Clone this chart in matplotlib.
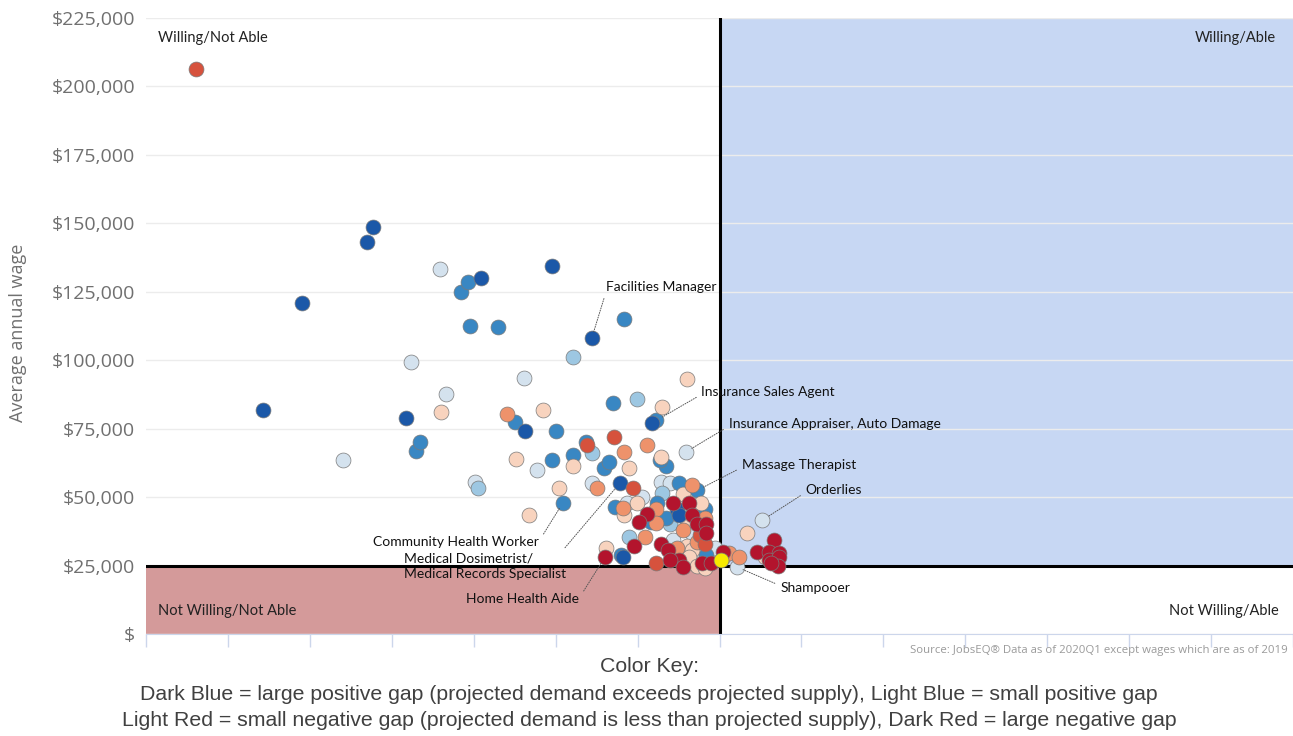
import numpy as np
import matplotlib
matplotlib.use("Agg")
import matplotlib.pyplot as plt
from matplotlib.patches import Rectangle
from matplotlib.ticker import FuncFormatter, MultipleLocator

# Gap colour scale, dark blue (large positive gap) -> dark red (large negative gap)
GAP_COLORS = {
    "db": "#1b58a8", "mb": "#3987c3", "lb": "#9dc7e2", "vlb": "#d4e2ee",
    "vlr": "#f8d3be", "lr": "#ee926b", "mr": "#d6523d", "dr": "#b3142d",
    "hl": "#f7ea00",
}

# Willingness/ability score (x) and average annual wage (y) per occupation,
# grouped by gap category.
db_x = [1.43, 1.91, 2.70, 2.77, 3.17, 4.09, 4.63, 4.95, 5.44, 6.18, 5.78, 6.48, 6.51, 5.82]
db_y = [82000, 121000, 143000, 148500, 79000, 130000, 74000, 134500, 108000, 77000,
        55000, 45500, 43500, 28000]

mb_x = [3.29, 3.34, 3.85, 3.93, 3.95, 4.30, 4.50, 5.00, 4.95, 5.09, 5.21, 5.37, 5.59, 5.65,
        5.70, 5.83, 6.23, 6.35, 6.27, 5.72, 6.51, 6.73, 6.82, 6.24, 6.17, 6.35, 6.84, 5.80]
mb_y = [67000, 70000, 125000, 128500, 112500, 112000, 77500, 74000, 63500, 48000, 65500,
        70000, 60500, 63000, 84500, 115000, 78000, 61500, 63500, 46500, 55000, 52500,
        45500, 48000, 41000, 42500, 29000, 29000]

lb_x = [5.21, 5.44, 5.99, 4.05, 5.90, 6.39, 6.30]
lb_y = [101000, 66000, 86000, 53500, 35500, 40000, 51500]

vlb_x = [2.41, 3.24, 3.59, 3.66, 4.02, 4.61, 4.77, 5.44, 6.59, 6.05, 5.87, 6.29, 6.39,
         6.67, 6.43, 6.94, 6.67, 7.52, 7.21]
vlb_y = [63500, 99500, 133500, 87500, 55500, 93500, 60000, 55000, 66500, 50000, 48000,
         55500, 55000, 37000, 34500, 31500, 29000, 41500, 24500]

vlr_x = [3.60, 4.52, 4.67, 4.84, 5.04, 5.21, 5.90, 6.29, 6.30, 6.60, 5.99, 5.84, 6.55,
         6.78, 6.60, 6.60, 6.66, 5.62, 6.63, 6.72, 6.82, 7.33, 7.55, 7.04]
vlr_y = [81000, 64000, 43500, 82000, 53500, 61500, 60500, 64500, 83000, 93000, 48000,
         43500, 51000, 48000, 41500, 32000, 30500, 31500, 28000, 25000, 24000, 37000,
         28000, 28000]

lr_x = [4.41, 5.84, 6.11, 5.50, 5.82, 6.66, 6.23, 6.23, 6.82, 6.55, 6.09, 6.48, 6.72,
        7.12, 7.24]
lr_y = [80500, 66500, 69000, 53500, 46000, 54500, 45500, 40500, 42500, 38000, 35500,
        31500, 33500, 29500, 28000]

mr_x = [0.61, 5.38, 5.71, 5.94, 6.76, 6.82, 6.23]
mr_y = [206500, 69000, 72000, 53500, 36000, 33000, 26000]

dr_x = [6.43, 6.63, 6.11, 6.02, 6.67, 6.72, 6.84, 6.84, 5.96, 5.60, 6.29, 6.37, 6.51,
        6.55, 6.79, 6.90, 7.04, 6.39, 7.67, 7.46, 7.61, 7.73, 7.61, 7.73, 7.71, 7.63]
dr_y = [48000, 48000, 44000, 41000, 43500, 40000, 40000, 37000, 32000, 28000, 33000,
        30500, 27000, 24500, 26000, 26000, 30000, 27000, 34500, 30000, 30000, 29500,
        27000, 28000, 25000, 26000]

hl_x = [7.02]
hl_y = [27000]

SERIES = [
    ("vlb", vlb_x, vlb_y), ("lb", lb_x, lb_y), ("mb", mb_x, mb_y), ("vlr", vlr_x, vlr_y),
    ("lr", lr_x, lr_y), ("db", db_x, db_y), ("mr", mr_x, mr_y), ("dr", dr_x, dr_y),
    ("hl", hl_x, hl_y),
]

# Labelled occupations: (label, point x, point y)
labels = ["Facilities Manager", "Insurance Sales Agent", "Insurance Appraiser, Auto Damage",
          "Massage Therapist", "Orderlies", "Shampooer", "Community Health Worker",
          "Medical Dosimetrist/\nMedical Records Specialist", "Home Health Aide"]
label_pts = [(5.44, 108000), (6.23, 78000), (6.59, 66500), (6.73, 52500), (7.52, 41500),
             (7.21, 24500), (5.09, 48000), (5.78, 55000), (5.60, 28000)]
# layout: text position, alignment, connector start on the text box
label_pos = [(5.61, 126700, "left", (0.0, 0.0)), (6.78, 88400, "left", (0.0, 0.3)),
             (7.11, 76700, "left", (0.0, 0.3)), (7.27, 61700, "left", (0.0, 0.3)),
             (8.05, 52600, "left", (0.0, 0.3)), (7.74, 16800, "left", (0.0, 0.7)),
             (4.80, 33600, "right", (1.0, 0.6)), (3.15, 24800, "left", (0.95, 0.88)),
             (5.29, 12800, "right", (1.0, 0.6))]

X_SPLIT, Y_SPLIT = 7, 25000
X_MAX, Y_MAX = 14, 225000

W, H = 1293, 736
fig = plt.figure(figsize=(W / 100, H / 100), dpi=100)
ax = fig.add_axes([146 / W, (H - 634) / H, (W - 146) / W, (634 - 18) / H])

# quadrant backgrounds
ax.add_patch(Rectangle((X_SPLIT, Y_SPLIT), X_MAX - X_SPLIT, Y_MAX - Y_SPLIT,
                       facecolor="#c7d7f3", edgecolor="none", zorder=0.2))
ax.add_patch(Rectangle((0, 0), X_SPLIT, Y_SPLIT,
                       facecolor="#d49a9a", edgecolor="none", zorder=0.2))
ax.set_axisbelow(True)
ax.grid(axis="y", color="#ececec", linewidth=1)
ax.axvline(X_SPLIT, color="black", linewidth=2.2, zorder=2)
ax.axhline(Y_SPLIT, color="black", linewidth=2.2, zorder=2)

for key, xs, ys in SERIES:
    ax.scatter(xs, ys, s=115, color=GAP_COLORS[key], edgecolors="#7a7a7a",
               linewidths=0.5, zorder=3)

ax.set_xlim(0, X_MAX)
ax.set_ylim(0, Y_MAX)
ax.xaxis.set_major_locator(MultipleLocator(1))
ax.yaxis.set_major_locator(MultipleLocator(25000))
ax.set_xticklabels([])
ax.yaxis.set_major_formatter(FuncFormatter(lambda v, p: f"${v:,.0f}" if v else "$"))
ax.tick_params(axis="x", length=9, width=1, color="#ccd6eb")
ax.tick_params(axis="y", length=0, pad=8, labelsize=14, labelcolor="#707070")
for lab in ax.get_yticklabels():
    lab.set_family("Open Sans")
for side in ["top", "right", "left"]:
    ax.spines[side].set_visible(False)
ax.spines["bottom"].set_color("#ccd6eb")

ann_font = dict(family="Lato", fontsize=10, color="#111111")
for text, (px, py), (tx, ty, ha, rel) in zip(labels, label_pts, label_pos):
    ax.annotate(text, xy=(px, py), xytext=(tx, ty), ha=ha, va="center",
                linespacing=1.3, zorder=4, **ann_font,
                arrowprops=dict(arrowstyle="-", color="#555555", linewidth=0.7,
                                linestyle=(0, (1, 1.5)), relpos=rel,
                                shrinkA=2, shrinkB=5))

quad_font = dict(family="Lato", fontsize=10.5, color="#222222", va="center")
ax.text(0.15, 217700, "Willing/Not Able", ha="left", **quad_font)
ax.text(13.79, 217700, "Willing/Able", ha="right", **quad_font)
ax.text(0.15, 8400, "Not Willing/Not Able", ha="left", **quad_font)
ax.text(13.83, 8400, "Not Willing/Able", ha="right", **quad_font)

fig.text(18 / W, 1 - 333 / H, "Average annual wage", rotation=90, ha="center",
         va="center", family="Open Sans", fontsize=13, color="#707070")
fig.text(1288 / W, 1 - 650 / H,
         "Source: JobsEQ\u00ae Data as of 2020Q1 except wages which are as of 2019",
         ha="right", va="center", family="Open Sans", fontsize=8.2, color="#9a9a9a")

key_font = dict(family="Liberation Sans", fontsize=15.3, color="#404040",
                ha="center", va="center")
fig.text(650 / W, 1 - 667 / H, "Color Key:", **key_font)
fig.text(649 / W, 1 - 695 / H,
         "Dark Blue = large positive gap (projected demand exceeds projected supply), "
         "Light Blue = small positive gap", **key_font)
fig.text(649 / W, 1 - 721 / H,
         "Light Red = small negative gap (projected demand is less than projected supply), "
         "Dark Red = large negative gap", **key_font)

fig.savefig("out.png", dpi=100)
